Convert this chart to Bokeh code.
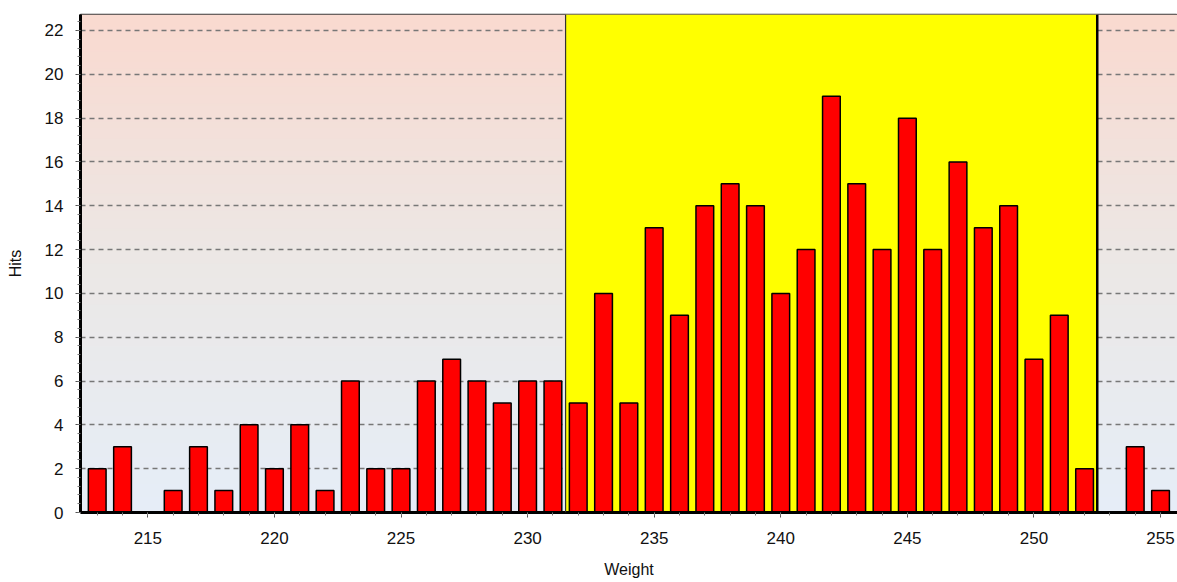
import numpy as np
from bokeh.plotting import figure
from bokeh.models import Range1d, FixedTicker, Span
from bokeh.embed import file_html
from bokeh.resources import INLINE

weights = list(range(213, 256))
hits = [2, 3, 0, 1, 3, 1, 4, 2, 4, 1, 6, 2, 2, 6, 7, 6, 5, 6, 6,
        5, 10, 5, 13, 9, 14, 15, 14, 10, 12, 19, 15, 12, 18, 12, 16, 13, 14, 7, 9, 2,
        0, 3, 1]
band_start = 231.5
band_end = 252.5
x_ticks = [215, 220, 225, 230, 235, 240, 245, 250, 255]
y_ticks = list(range(0, 23, 2))

X0, X1 = 212.34, 255.67
Y0, Y1 = 0, 22.73

p = figure(width=1177, height=580, output_backend="svg", toolbar_location=None,
           x_range=Range1d(X0, X1), y_range=Range1d(Y0, Y1),
           min_border_left=80, min_border_right=0, min_border_top=14, min_border_bottom=66)
p.background_fill_color = "white"
p.border_fill_color = "white"
p.outline_line_color = "#3a3a3a"
p.outline_line_width = 1.5

# gradient background
n = 256
top = np.array([250, 218, 208], dtype=float)
mid = np.array([236, 232, 230], dtype=float)
bot = np.array([230, 238, 248], dtype=float)
img = np.empty((n, 2), dtype=np.uint32)
view = img.view(dtype=np.uint8).reshape((n, 2, 4))
for i in range(n):
    t = i / (n - 1)  # 0 bottom -> 1 top
    if t < 0.5:
        c = bot + (mid - bot) * (t / 0.5)
    else:
        c = mid + (top - mid) * ((t - 0.5) / 0.5)
    view[i, :, 0] = int(c[0]); view[i, :, 1] = int(c[1]); view[i, :, 2] = int(c[2]); view[i, :, 3] = 255
p.image_rgba(image=[img], x=X0, y=Y0, dw=X1 - X0, dh=Y1 - Y0, level="image")

# grid
p.xgrid.visible = False
p.ygrid.ticker = FixedTicker(ticks=y_ticks)
p.ygrid.grid_line_color = "#777777"
p.ygrid.grid_line_dash = "5 4"
p.ygrid.grid_line_width = 1.3

# yellow band
p.quad(left=[band_start], right=[band_end], bottom=[Y0], top=[Y1], fill_color="#ffff00", line_color=None)
p.add_layout(Span(location=band_start, dimension="height", line_color="#333333", line_width=1.2))
p.add_layout(Span(location=band_end, dimension="height", line_color="black", line_width=2.5))

# bars
p.vbar(x=weights, top=hits, width=0.7, bottom=0, fill_color="#ff0000", line_color="black", line_width=1.5)

# axes
font = "Liberation Sans"
p.xaxis.ticker = FixedTicker(ticks=x_ticks, minor_ticks=list(range(212, 257)))
p.yaxis.ticker = FixedTicker(ticks=y_ticks, minor_ticks=[round(v * 0.4, 2) for v in range(0, 58)])
for ax in (p.xaxis[0], p.yaxis[0]):
    ax.axis_line_color = "black"
    ax.axis_line_width = 3
    ax.major_tick_line_color = "#555555"
    ax.minor_tick_line_color = "#777777"
    ax.major_tick_out = 5
    ax.major_tick_in = 0
    ax.minor_tick_out = 3
    ax.minor_tick_in = 0
    ax.major_label_text_font = font
    ax.major_label_text_font_size = "17px"
    ax.major_label_text_color = "#111111"
    ax.axis_label_text_font = font
    ax.axis_label_text_font_size = "16px"
    ax.axis_label_text_font_style = "normal"
    ax.axis_label_text_color = "#111111"
p.xaxis.axis_label = "Weight"
p.yaxis.axis_label = "Hits"
p.xaxis.major_label_standoff = 14
p.xaxis.axis_label_standoff = 14
p.yaxis.major_label_standoff = 12
p.yaxis.axis_label_standoff = 18

open("out.html", "w").write(file_html(p, INLINE))
